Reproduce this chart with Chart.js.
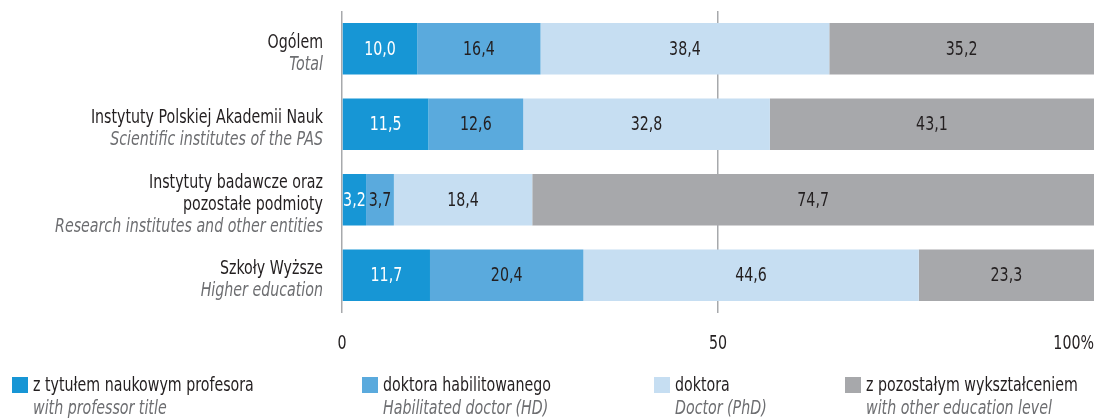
<html>
<head>
    <meta charset="utf-8">
    <title>Struktura zatrudnionych</title>
    <script src="https://cdn.jsdelivr.net/npm/chart.js"></script>
    <style>
        body { margin: 0; background: #fff; }
    </style>
</head>
<body>
<canvas id="graph" width="1097" height="419"></canvas>
<script>
    // categories (Polish / English)
    const categories_pl = [['Ogólem'], ['Instytuty Polskiej Akademii Nauk'], ['Instytuty badawcze oraz', 'pozostałe podmioty'], ['Szkoły Wyższe']];
    const categories_en = ['Total', 'Scientific institutes of the PAS', 'Research institutes and other entities', 'Higher education'];

    // series
    const series_pl = ['z tytułem naukowym profesora', 'doktora habilitowanego', 'doktora', 'z pozostałym wykształceniem'];
    const series_en = ['with professor title', 'Habilitated doctor (HD)', 'Doctor (PhD)', 'with other education level'];
    const professor = [10.0, 11.5, 3.2, 11.7];
    const habilitated = [16.4, 12.6, 3.7, 20.4];
    const phd = [38.4, 32.8, 18.4, 44.6];
    const other = [35.2, 43.1, 74.7, 23.3];

    const tick_values = [0, 50, 100];
    const tick_labels = ['0', '50', '100%'];

    const colors = ['#1796d5', '#5aaadd', '#c6def2', '#a7a8ab'];
    const label_colors = ['#ffffff', '#231f20', '#231f20', '#231f20'];
    const FONT = '"DejaVu Sans Condensed", "DejaVu Sans", sans-serif';
    const DARK = '#231f20';
    const GREY_TEXT = '#6d6e71';
    const SX = 0.79; // squeeze text to look like a condensed face

    const fmt = v => v.toFixed(1).replace('.', ',');

    function squeezed(ctx, text, x, y, align) {
        ctx.save();
        ctx.translate(x, y);
        ctx.scale(SX, 1);
        ctx.textAlign = align;
        ctx.fillText(text, 0, 0);
        ctx.restore();
    }

    // labels on the bars, category names, x tick labels and legend
    const textPlugin = {
        id: 'texts',
        afterDatasetsDraw(chart) {
            const ctx = chart.ctx;
            ctx.save();
            ctx.textBaseline = 'middle';
            ctx.font = '20px ' + FONT;
            chart.data.datasets.forEach((ds, i) => {
                chart.getDatasetMeta(i).data.forEach((bar, j) => {
                    const p = bar.getProps(['x', 'y', 'base'], true);
                    ctx.fillStyle = label_colors[i];
                    squeezed(ctx, fmt(ds.data[j]), (p.x + p.base) / 2, p.y + 1, 'center');
                });
            });
            ctx.restore();
        },
        afterDraw(chart) {
            const ctx = chart.ctx;
            const y = chart.scales.y;
            const x = chart.scales.x;
            ctx.save();
            ctx.textBaseline = 'middle';
            // category labels
            const lh = 22;
            categories_pl.forEach((lines, i) => {
                const all = lines.length + 1;
                const cy = y.getPixelForValue(i) + 5;
                const top = cy - (all - 1) * lh / 2;
                ctx.font = '20px ' + FONT;
                ctx.fillStyle = DARK;
                lines.forEach((t, k) => squeezed(ctx, t, 323, top + k * lh, 'right'));
                ctx.font = 'italic 20px ' + FONT;
                ctx.fillStyle = GREY_TEXT;
                squeezed(ctx, categories_en[i], 323, top + lines.length * lh, 'right');
            });
            // x tick labels
            ctx.font = '20px ' + FONT;
            ctx.fillStyle = DARK;
            tick_values.forEach((v, i) => {
                const px = x.getPixelForValue(v);
                squeezed(ctx, tick_labels[i], px, 344, i === tick_values.length - 1 ? 'right' : 'center');
            });
            // legend
            const lx = [12, 362, 654, 845];
            series_pl.forEach((t, i) => {
                ctx.fillStyle = colors[i];
                ctx.fillRect(lx[i], 377, 16, 16);
                ctx.font = '20px ' + FONT;
                ctx.fillStyle = DARK;
                squeezed(ctx, t, lx[i] + 21, 386, 'left');
                ctx.font = 'italic 20px ' + FONT;
                ctx.fillStyle = GREY_TEXT;
                squeezed(ctx, series_en[i], lx[i] + 21, 409, 'left');
            });
            ctx.restore();
        }
    };

    const data = {
        labels: categories_en,
        datasets: [
            { label: series_pl[0], data: professor, backgroundColor: colors[0] },
            { label: series_pl[1], data: habilitated, backgroundColor: colors[1] },
            { label: series_pl[2], data: phd, backgroundColor: colors[2] },
            { label: series_pl[3], data: other, backgroundColor: colors[3] }
        ]
    };

    const config = {
        type: 'bar',
        data: data,
        options: {
            indexAxis: 'y',
            responsive: false,
            animation: false,
            layout: { padding: { left: 342, top: 11, right: -2, bottom: 0 } },
            datasets: { bar: { barPercentage: 0.68, categoryPercentage: 1, borderWidth: 0 } },
            plugins: { legend: { display: false }, tooltip: { enabled: false } },
            scales: {
                x: {
                    stacked: true,
                    min: 0,
                    max: 100,
                    ticks: { stepSize: 50, callback: () => '' },
                    border: { display: false },
                    grid: {
                        color: ctx => ctx.tick && ctx.tick.value === 100 ? 'rgba(0,0,0,0)' : '#a7a9ac',
                        lineWidth: 1.5,
                        tickLength: 0
                    },
                    afterFit: scale => { scale.height = 106; }
                },
                y: {
                    stacked: true,
                    display: false
                }
            }
        },
        plugins: [textPlugin]
    };

    new Chart(document.getElementById('graph'), config);
</script>
</body>
</html>
